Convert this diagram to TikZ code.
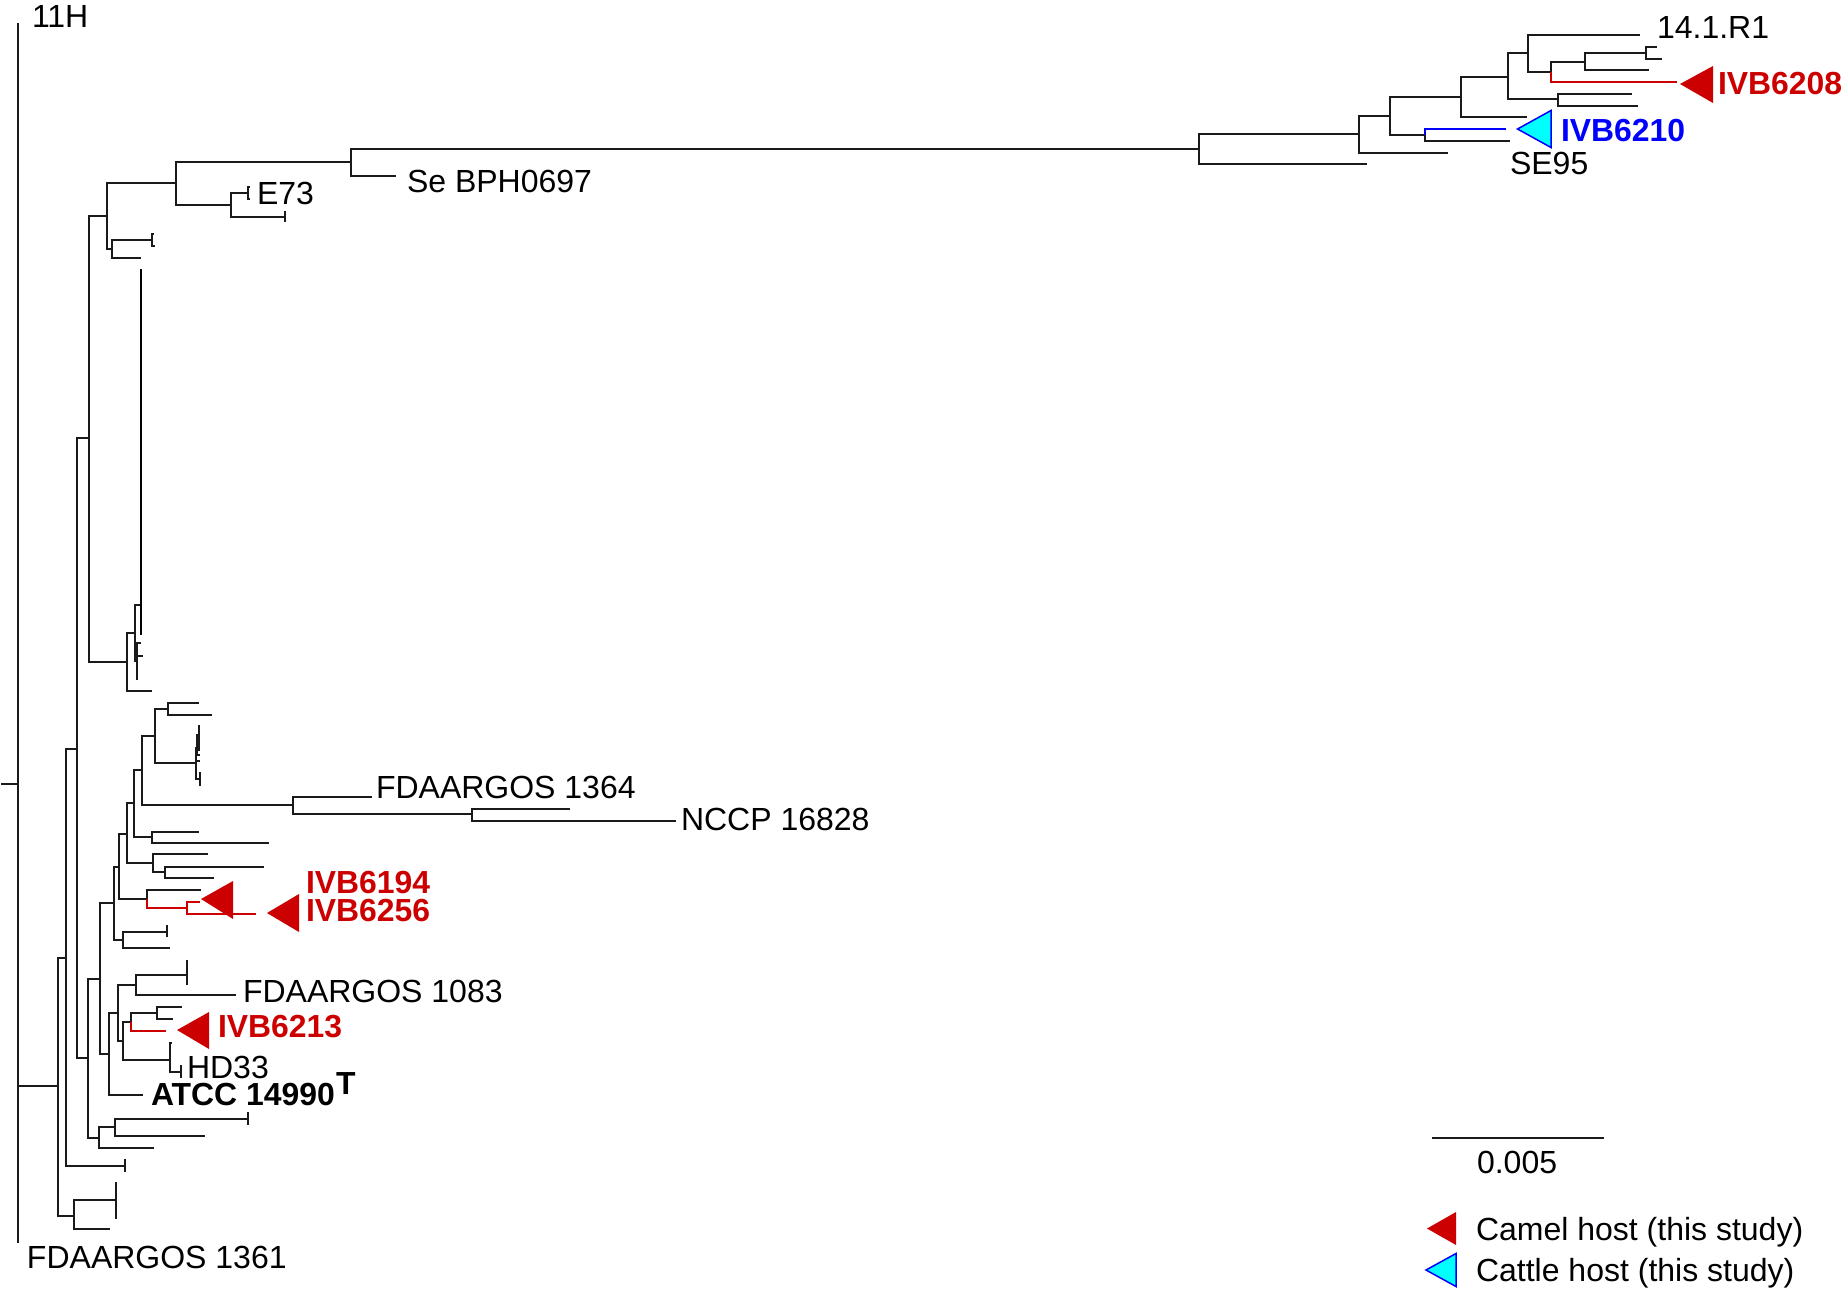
\documentclass[tikz,border=0pt]{standalone}
\usepackage{fontspec}
\setmainfont{Liberation Sans}
\definecolor{camelred}{HTML}{CC0000}
\definecolor{cattleblue}{HTML}{0000FF}
\definecolor{cattlecyan}{HTML}{00FFFF}
\definecolor{branch}{HTML}{1A1A1A}
\tikzset{
  edge/.style={draw=branch,line width=1.35pt,line cap=butt},
  thickedge/.style={draw=black,line width=2.6pt},
  rededge/.style={draw=camelred,line width=1.35pt},
  blueedge/.style={draw=cattleblue,line width=1.35pt},
  lab/.style={anchor=base west,inner sep=0pt,outer sep=0pt,font=\fontsize{32}{32}\selectfont,text=black},
  boldlab/.style={lab,font=\fontsize{31.9}{32}\selectfont\bfseries},
  camel/.style={fill=camelred,draw=none},
  cattle/.style={fill=cattlecyan,draw=cattleblue,line width=1.5pt,line join=miter},
}
\begin{document}
\begin{tikzpicture}[x=1pt,y=-1pt]
\useasboundingbox (0,0) rectangle (1843,1290);
% coordinates: name/x/y
\foreach \n/\x/\y in {
 root0/1/784, root/18/784, t11/18/23, t1361/19/1242,
 n1/58/1086, n2/66/958, n3/74/1216, c3/116/1200, c3a/117/1183, c3b/117/1218, c3c/110/1229,
 n4/77/749, d1/125/1166, d1a/125/1159, d1b/125/1172,
 n5/89/438, n6/88/1058, n7/107/216, n8/127/662,
 n9/176/183, n10/112/249, n11/351/162, n12/231/205, tSe/396/176,
 n13/248/193, n14/285/217, e1/250/187, e2/250/199, e3/285/211, e4/285/222,
 n15/152/240, t141/141/258, f1/154/234, f2/155/246,
 n16/135/633, t152/152/691, n17/141/605, n18/137/661,
 g1/141/269, g2/141/635, g3/141/643, g4/143/656, g5/138/679,
 n19/100/979, n20/99/1138, n21/115/1127, t154/154/1148, n22/248/1119, t205/205/1136,
 h1/248/1112, h2/248/1125,
 n24/114/903, n25/109/1054, n26/119/867, n27/123/940, n28/167/932, t170/170/948,
 i1/167/925, i2/167/937,
 n29/127/834, n30/147/899, t201/201/890, n31/187/908, r1/200/902, r2/256/914,
 n32/134/803, n33/153/863, t208/208/854, n34/165/872, j1/264/867, j2/214/878,
 n35/142/770, n36/152/837, k1/199/832, k2/269/843,
 n37/155/736, n38/293/805, n39/168/709, n40/196/763, l1/199/703, l2/212/715,
 n41/197/748, l3/200/761, n42/200/779, n43/199/735, l4/200/755, l5/199/725, l6/200/750,
 l7/200/772, l8/200/786,
 tF/372/797, n44/472/814, m1/570/809, m2/676/821,
 n45/118/1013, tATCC/143/1095, n46/136/985, n47/123/1041, n48/187/975, t236/236/995,
 o1/187/960, o2/188/984, n49/131/1022, n50/170/1060, n51/157/1013, r3/166/1031,
 p1/182/1007, p2/173/1019, p3/172/1043, n52/181/1072, p4/181/1065, p5/181/1078,
 A/1199/149, B/1359/134, tA/1367/164, C/1390/116, tB/1448/153,
 E/1461/97, D/1425/135, r4/1506/129, tD/1510/141,
 F/1508/77, tE/1527/117, H/1528/53, G/1558/99, q1/1632/94, q2/1638/106,
 tH/1640/35, I/1551/72, J/1585/62, r5/1677/82, K/1646/53, tJ/1649/70,
 s1/1657/47, s2/1662/59,
 z1/1432/1138, z2/1604/1138}
  {\coordinate (\n) at (\x,\y);}
% black branches: parent/child (parent bar, then horizontal to child)
\draw[edge] (root0) -- (root);
\foreach \p/\c in {
 root/t11, root/t1361, root/n1, n1/n2, n1/n3, n3/c3, c3/c3a, c3/c3b, n3/c3c,
 n2/n4, n2/d1, d1/d1a, d1/d1b, n4/n5, n4/n6, n5/n7, n5/n8,
 n7/n9, n7/n10, n9/n11, n9/n12, n11/tSe, n11/A,
 n12/n13, n12/n14, n13/e1, n13/e2, n14/e3, n14/e4,
 n10/n15, n10/t141, n15/f1, n15/f2,
 n8/n16, n8/t152, n16/n17, n16/n18, n18/g3, n18/g4, n18/g5,
 n6/n19, n6/n20, n20/n21, n20/t154, n21/n22, n21/t205, n22/h1, n22/h2,
 n19/n24, n19/n25, n24/n26, n24/n27, n27/n28, n27/t170, n28/i1, n28/i2,
 n26/n29, n26/n30, n30/t201,
 n29/n32, n29/n33, n33/t208, n33/n34, n34/j1, n34/j2,
 n32/n35, n32/n36, n36/k1, n36/k2,
 n35/n37, n35/n38, n37/n39, n37/n40, n39/l1, n39/l2,
 n40/n41, n40/l3, n40/n42, n41/n43, n41/l4, n43/l5, n43/l6, n42/l7, n42/l8,
 n38/tF, n38/n44, n44/m1, n44/m2,
 n25/n45, n25/tATCC, n45/n46, n45/n47, n46/n48, n46/t236, n48/o1, n48/o2,
 n47/n49, n47/n50, n49/n51, n51/p1, n51/p2, n50/p3, n50/n52, n52/p4, n52/p5,
 A/B, A/tA, B/C, B/tB, C/E, C/D, D/tD,
 E/F, E/tE, F/H, F/G, G/q1, G/q2, H/tH, H/I, I/J, J/K, J/tJ, K/s1, K/s2}
  {\draw[edge] (\p) |- (\c);}
\foreach \p/\c in {n17/g1, n17/g2} {\draw[thickedge] (\p) |- (\c);}
% coloured branches
\foreach \p/\c in {n30/n31, n31/r1, n31/r2, n49/r3, I/r5} {\draw[rededge] (\p) |- (\c);}
\draw[blueedge] (D) |- (r4);
% host markers
\fill[camel] (1680,84) -- (1713,66) -- (1713,103) -- cycle;
\fill[camel] (201,899) -- (233,881) -- (233,919) -- cycle;
\fill[camel] (267,913) -- (299,894) -- (299,932) -- cycle;
\fill[camel] (177,1030) -- (209,1012) -- (209,1049) -- cycle;
\filldraw[cattle] (1517.5,129) -- (1551,110.5) -- (1551,147.5) -- cycle;
% labels
\node[lab] (l11H) at (32,28) {11H};
\node[lab] (l1361) at (27,1268) {FDAARGOS 1361};
\node[lab] (lE73) at (257,204) {E73};
\node[lab] (lSe) at (407,192) {Se BPH0697};
\node[lab] (l141) at (1657,38) {14.1.R1};
\node[lab] (lSE95) at (1510,174) {SE95};
\node[lab] (l1364) at (376,798) {FDAARGOS 1364};
\node[lab] (lNCCP) at (681,830) {NCCP 16828};
\node[lab] (l1083) at (243,1002) {FDAARGOS 1083};
\node[lab] (lHD) at (187,1078) {HD33};
\node[boldlab] (lATCC) at (151,1105) {ATCC 14990};
\node[boldlab] (lT) at (336,1094) {T};
\node[boldlab,text=camelred] (l6208) at (1718,94) {IVB6208};
\node[boldlab,text=cattleblue] (l6210) at (1561,141) {IVB6210};
\node[boldlab,text=camelred] (l6194) at (306,893) {IVB6194};
\node[boldlab,text=camelred] (l6256) at (306,921) {IVB6256};
\node[boldlab,text=camelred] (l6213) at (218,1037) {IVB6213};
% scale bar
\draw[edge] (z1) -- (z2);
\node[lab] (lscale) at (1477,1173) {0.005};
% legend
\fill[camel] (1427,1228.5) -- (1456,1212) -- (1456,1245) -- cycle;
\filldraw[cattle] (1426,1270) -- (1456,1253.5) -- (1456,1286.5) -- cycle;
\node[lab] (lcamel) at (1476,1240) {Camel host (this study)};
\node[lab] (lcattle) at (1476,1281) {Cattle host (this study)};
\end{tikzpicture}
\end{document}
